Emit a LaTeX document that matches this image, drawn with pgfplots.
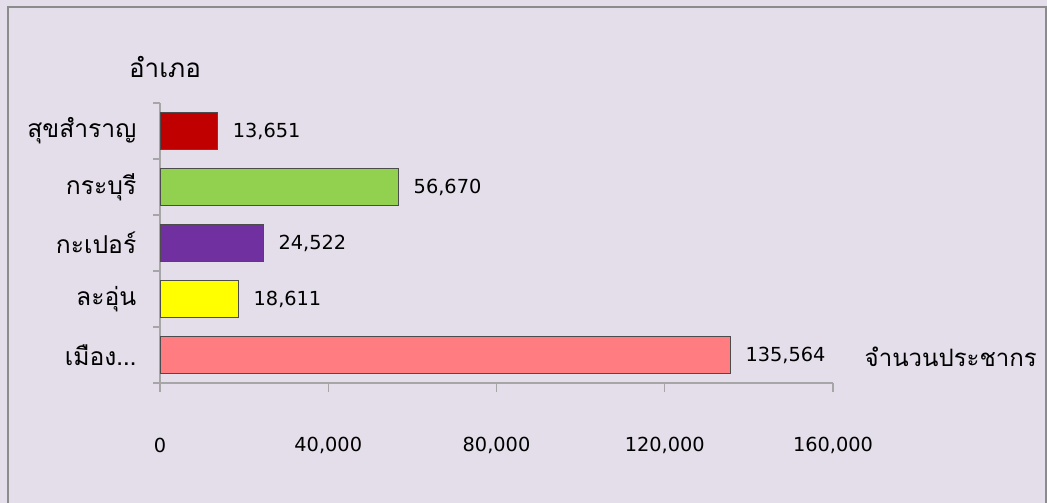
\documentclass[border=0pt]{standalone}
\usepackage{pgfplots}
\pgfplotsset{compat=1.18}
\usepackage{fontspec}
\setmainfont[Script=Thai]{Loma}
\newfontfamily\numfont{DejaVu Sans}
\definecolor{bg}{HTML}{E4DEEA}
\definecolor{axgray}{HTML}{A6A6A6}
\definecolor{cred}{HTML}{C00000}
\definecolor{cgreen}{HTML}{92D050}
\definecolor{cpurple}{HTML}{7030A0}
\definecolor{cyellow}{HTML}{FFFF00}
\definecolor{cpink}{HTML}{FF7C80}
\begin{document}
\begin{tikzpicture}
\fill[bg] (0,0) rectangle (785.25pt,377.25pt);
\useasboundingbox (0,0) rectangle (785.25pt,377.25pt);
\draw[gray!90, line width=1.5pt] (6pt,-2pt) -- (6pt,372pt) -- (784.5pt,372pt) -- (784.5pt,-2pt);
\begin{axis}[
  at={(120pt,90pt)}, anchor=south west,
  scale only axis, width=504.75pt, height=210pt,
  xbar, bar width=27.75pt,
  xmin=0, xmax=160000, ymin=-0.5, ymax=4.5,
  axis lines*=left,
  axis line style={draw=axgray, line width=1pt},
  tick align=outside,
  tick style={draw=axgray, line width=1pt},
  major tick length=6.75pt, minor tick length=5.25pt,
  ytick={0,1,2,3,4},
  yticklabels={{เมือง\ldots},{ละอุ่น},{กะเปอร์},{กระบุรี},{สุขสำราญ}},
  major y tick style={draw=none},
  minor ytick={-0.5,0.5,1.5,2.5,3.5,4.5},
  yticklabel style={font=\fontsize{18.5}{21}\selectfont, xshift=-7.5pt},
  xtick={0,40000,80000,120000,160000},
  scaled x ticks=false,
  xticklabel style={font=\numfont\fontsize{14.5}{16}\selectfont, anchor=center, yshift=-39.75pt},
  /pgf/number format/.cd, fixed, 1000 sep={,}, assume math mode=true,
  /pgfplots/.cd,
  nodes near coords,
  point meta=x,
  nodes near coords style={font=\numfont\fontsize{14.5}{16}\selectfont, anchor=west, xshift=8pt, text=black},
  clip=false,
]
\addplot[fill=cpink, draw=black!70, bar shift=0pt] coordinates {(135564,0)};
\addplot[fill=cyellow, draw=black!70, bar shift=0pt] coordinates {(18611,1)};
\addplot[fill=cpurple, draw=black!70, bar shift=0pt] coordinates {(24522,2)};
\addplot[fill=cgreen, draw=black!70, bar shift=0pt] coordinates {(56670,3)};
\addplot[fill=cred, draw=black!70, bar shift=0pt] coordinates {(13651,4)};
\end{axis}
\node[font=\fontsize{19.5}{22}\selectfont] at (123.75pt,327pt) {อำเภอ};
\node[font=\fontsize{18}{21}\selectfont, anchor=west] at (645pt,109.5pt) {จำนวนประชากร};
\end{tikzpicture}
\end{document}
